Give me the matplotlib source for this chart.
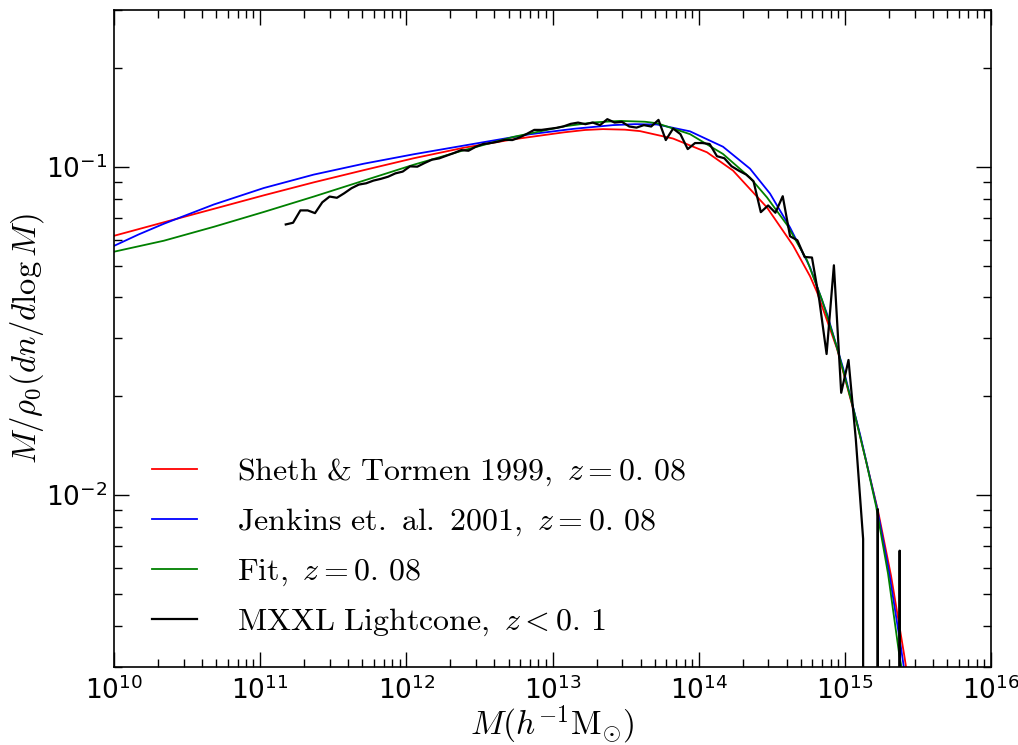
import numpy as np
import matplotlib
matplotlib.use("Agg")
import matplotlib.pyplot as plt
from matplotlib.ticker import NullFormatter

plt.rcParams['mathtext.fontset'] = 'cm'
plt.rcParams['axes.unicode_minus'] = False

# Sheth & Tormen 1999 mass function, z = 0.08
st_logm = [10.0, 10.3402, 10.6824, 11.0246, 11.3669, 11.7091, 12.0513, 12.3936,
           12.7358, 13.078, 13.2218, 13.345, 13.4956, 13.5982, 13.8241, 14.0568,
           14.2348, 14.4675, 14.6454, 14.7618, 14.8097, 14.9466, 15.0835, 15.2273,
           15.3162, 15.4052, 15.46]
st_f = [0.0616, 0.0677, 0.0744, 0.0818, 0.0896, 0.0976, 0.1061, 0.1142,
        0.1212, 0.1272, 0.1293, 0.1301, 0.1296, 0.1283, 0.1218, 0.1106,
        0.0973, 0.0751, 0.0576, 0.0464, 0.0415, 0.0279, 0.01653, 0.00894,
        0.00568, 0.00328, 0.00228]

# Jenkins et al. 2001
jk_logm = [10.0, 10.169, 10.3402, 10.6824, 11.0246, 11.3669, 11.7091, 12.0513,
           12.5031, 12.8453, 13.1464, 13.4134, 13.564, 13.7146, 13.9405, 14.1663,
           14.3511, 14.488, 14.6249, 14.7618, 14.8782, 14.9877, 15.104, 15.2204,
           15.3025, 15.3847, 15.4394]
jk_f = [0.0574, 0.0622, 0.0670, 0.0767, 0.0861, 0.0946, 0.1021, 0.1091,
        0.1182, 0.1255, 0.1304, 0.1338, 0.1347, 0.1344, 0.1281, 0.1150,
        0.0986, 0.0828, 0.0653, 0.0494, 0.0356, 0.0244, 0.0153, 0.00913,
        0.00584, 0.00342, 0.00233]

# fitted mass function
fit_logm = [10.0, 10.3402, 10.6824, 11.0246, 11.3669, 11.7091, 12.0513, 12.3936,
            12.7358, 13.078, 13.2834, 13.4613, 13.6324, 13.7146, 13.9405, 14.1663,
            14.3511, 14.4675, 14.6044, 14.7413, 14.8439, 14.9466, 15.0561, 15.1451,
            15.2136, 15.2957, 15.371, 15.4189]
fit_f = [0.0551, 0.0595, 0.0656, 0.0728, 0.0811, 0.0907, 0.1014, 0.1122,
         0.1233, 0.1326, 0.1364, 0.1378, 0.1370, 0.1356, 0.1256, 0.1093,
         0.0926, 0.0806, 0.0665, 0.0519, 0.0393, 0.0281, 0.0185, 0.0127,
         0.00926, 0.00576, 0.00330, 0.00249]

# MXXL lightcone halo counts, 0.05 dex bins starting at log M = 11.175
mxxl_logm0 = 11.175
mxxl_dlogm = 0.05
mxxl_f = [0.0667, 0.0675, 0.0736, 0.0736, 0.0722, 0.0779, 0.0811, 0.0804, 0.0830, 0.0860,
          0.0882, 0.0890, 0.0907, 0.0918, 0.0932, 0.0954, 0.0966, 0.1002, 0.1000, 0.1026,
          0.1050, 0.1060, 0.1080, 0.1100, 0.1123, 0.1118, 0.1150, 0.1172, 0.1180, 0.1191,
          0.1207, 0.1205, 0.1227, 0.1259, 0.1294, 0.1294, 0.1303, 0.1312, 0.1326, 0.1350,
          0.1362, 0.1347, 0.1362, 0.1338, 0.1395, 0.1362, 0.1369, 0.1325, 0.1315, 0.1338,
          0.1325, 0.1388, 0.1205, 0.1306, 0.1256, 0.1131, 0.1180, 0.1180, 0.1172, 0.1076,
          0.1061, 0.1003, 0.0972, 0.0946, 0.0903, 0.0727, 0.0762, 0.0724, 0.0813, 0.0614,
          0.0597, 0.0531, 0.0529, 0.0393, 0.0269, 0.0501, 0.0205, 0.0258, 0.0148, 0.00736,
          0.0, 0.00907, 0.0, 0.0, 0.00678, 0.0]

mxxl_m = 10 ** (mxxl_logm0 + mxxl_dlogm * np.arange(len(mxxl_f)))

fig = plt.figure(figsize=(10.18, 7.45), dpi=100)
ax = fig.add_axes([0.112, 0.1047, 0.8615, 0.882])
ax.set_xscale('log')
ax.set_yscale('log', nonpositive='clip')

ax.plot(10 ** np.array(st_logm), st_f, color='r', lw=1.3,
        label=r'$\mathrm{Sheth\ &\ Tormen\ 1999,}\ z=0.\,08$')
ax.plot(10 ** np.array(jk_logm), jk_f, color='b', lw=1.3,
        label=r'$\mathrm{Jenkins\ et.\ al.\ 2001,}\ z=0.\,08$')
ax.plot(10 ** np.array(fit_logm), fit_f, color='g', lw=1.3,
        label=r'$\mathrm{Fit,}\ z=0.\,08$')
ax.plot(mxxl_m, mxxl_f, color='k', lw=1.6,
        label=r'$\mathrm{MXXL\ Lightcone,}\ z<0.\,1$')

ax.set_xlim(1e10, 1e16)
ax.set_ylim(3e-3, 0.3)

ax.tick_params(which='both', direction='in', top=True, right=True, labelsize=19)
ax.tick_params(which='major', length=11, width=1)
ax.tick_params(which='minor', length=5.5, width=1)
ax.yaxis.set_minor_formatter(NullFormatter())
ax.xaxis.set_minor_formatter(NullFormatter())
ax.tick_params(axis='x', pad=7)
ax.tick_params(axis='y', pad=5)
for s in ax.spines.values():
    s.set_linewidth(1.2)

ax.set_xlabel(r'$M(h^{-1}\mathrm{M}_{\odot})$', fontsize=24, labelpad=-1)
ax.set_ylabel(r'$M/\rho_0(dn/d\log M)$', fontsize=23.5, labelpad=0)

ax.legend(loc='lower left', bbox_to_anchor=(0.0106, 0.0), frameon=False,
          fontsize=23, handlelength=1.4, handletextpad=1.25, labelspacing=0.56)

fig.savefig('out.png', dpi=100)
